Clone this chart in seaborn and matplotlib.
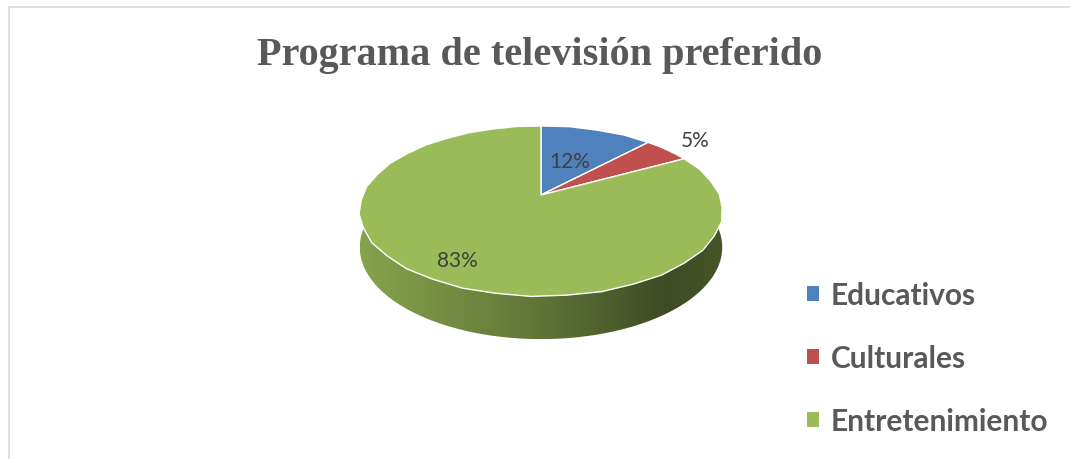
import numpy as np
import matplotlib
matplotlib.use("Agg")
import matplotlib.pyplot as plt
import matplotlib.patches as mpatches
from matplotlib.colors import to_rgb
import seaborn as sns

# ---- data ----
categories = ["Educativos", "Culturales", "Entretenimiento"]
values = [12, 5, 83]
colors = ["#4F81BD", "#C0504D", "#9BBB59"]
title = "Programa de televisión preferido"

sns.set_theme(style="white")
plt.rcParams["font.family"] = ["Lato", "DejaVu Sans"]

W, H = 1070, 460
fig = plt.figure(figsize=(W / 100, H / 100), dpi=100)
ax = fig.add_axes([0, 0, 1, 1])

# base pie (unit circle) computed by matplotlib
wedges, _ = ax.pie(values, colors=colors, startangle=90, counterclock=False,
                   radius=1, center=(0, 0))

# perspective projection of the unit disk to pixel space
CX, CY, SX, SZ, PB, DEPTH = 541, 196, 178, 82, 0.188, 35


def project(X, Z, h=0.0):
    X = np.asarray(X, float)
    Z = np.asarray(Z, float)
    den = 1 + PB * Z
    return CX + SX * X / den, CY - (SZ * Z + DEPTH * h) / den


ax.set_xlim(0, W)
ax.set_ylim(H, 0)
ax.axis("off")

# ---- side walls (front half of the cylinder) ----
def shade_img(rgb):
    stops_x = np.array([0.0, 0.5, 0.85, 1.0])
    stops_f = np.array([0.87, 0.62, 0.40, 0.46])
    xs = np.linspace(0, 1, 256)
    f = np.interp(xs, stops_x, stops_f)
    img = np.clip(np.outer(f, rgb).reshape(1, 256, 3), 0, 1)
    return img


for w in wedges:
    t1, t2 = w.theta1, w.theta2
    for shift in (-360, 0, 360):
        a = max(t1 + shift, 180)
        b = min(t2 + shift, 360)
        if b <= a:
            continue
        th = np.radians(np.linspace(a, b, 200))
        xt, yt = project(np.cos(th), np.sin(th), 0)
        xb, yb = project(np.cos(th), np.sin(th), -1)
        verts = np.column_stack([np.r_[xt, xb[::-1]], np.r_[yt, yb[::-1]]])
        side = mpatches.Polygon(verts, closed=True, facecolor="none",
                                edgecolor="none", zorder=1)
        ax.add_patch(side)
        x0, x1 = verts[:, 0].min(), verts[:, 0].max()
        y0, y1 = verts[:, 1].min(), verts[:, 1].max()
        im = ax.imshow(shade_img(np.array(to_rgb(w.get_facecolor()))),
                       extent=(x0, x1, y1, y0), aspect="auto", zorder=1,
                       interpolation="bilinear")
        im.set_clip_path(side)

ax.set_xlim(0, W)
ax.set_ylim(H, 0)

# ---- top face ----
handles = []
for w, c in zip(wedges, colors):
    poly = w.get_path().to_polygons(closed_only=True)[0]
    px, py = project(poly[:, 0], poly[:, 1])
    top = mpatches.Polygon(np.column_stack([px, py]), closed=True,
                           facecolor=c, edgecolor="white", linewidth=1.0,
                           zorder=3)
    ax.add_patch(top)
    w.remove()
    handles.append(mpatches.Patch(facecolor=c, edgecolor="none"))

# ---- percentage labels ----
label_r = [0.48, 1.25, 0.8]
total = sum(values)
for w, v, r in zip(wedges, values, label_r):
    mid = np.radians((w.theta1 + w.theta2) / 2)
    lx, ly = project(r * np.cos(mid), r * np.sin(mid))
    ax.text(float(lx), float(ly), f"{v / total * 100:.0f}%", ha="center",
            va="center", fontsize=15, color="#404040", zorder=5)

# ---- title ----
ax.text(540, 65, title, ha="center", va="baseline", fontsize=29,
        fontweight="bold", color="#595959",
        family=["Liberation Serif", "DejaVu Serif"])

# ---- legend ----
leg = ax.legend(handles, categories, loc="upper left",
                bbox_to_anchor=(807, 282), bbox_transform=ax.transData,
                frameon=False, fontsize=21.5, handlelength=0.4,
                handleheight=0.4, handletextpad=0.4, labelspacing=1.17,
                borderpad=0, borderaxespad=0)
for t in leg.get_texts():
    t.set_color("#595959")
    t.set_fontweight("bold")

# ---- chart border ----
ax.plot([9, 9, W], [H, 8, 8], color="#D9D9D9", linewidth=1.2, zorder=0,
        clip_on=False)

fig.savefig("out.png", dpi=100)
